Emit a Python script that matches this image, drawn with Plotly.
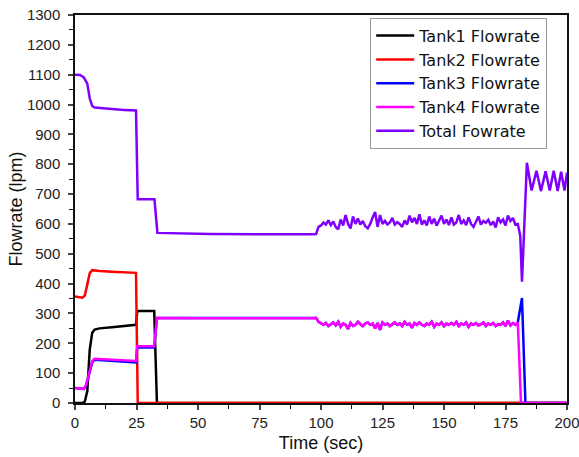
import plotly.graph_objects as go

# ---------------- data ----------------
tank1_t = [0, 3, 4, 5, 6, 7, 8, 10, 15, 20, 24.8, 25.3, 32.2, 33.3, 200]
tank1_v = [0, 0, 5, 40, 180, 235, 246, 250, 254, 258, 262, 308, 308, 0, 0]

tank2_t = [0, 3, 4, 5, 6, 7, 10, 15, 20, 24.8, 25.5, 200]
tank2_v = [357, 353, 360, 400, 435, 445, 442, 440, 438, 436, 0, 0]

early_t = [0, 3.5, 4.5, 6, 7, 8, 10, 15, 20, 24.8, 25.3, 32.2, 33.3, 50, 97]
tank3_early = [50, 47, 58, 105, 136, 145, 144, 141, 139, 136, 186, 186, 285, 285, 284]
tank4_early = [50, 47, 60, 110, 140, 148, 147, 145, 143, 141, 190, 190, 285, 284, 284]

fluct_t = list(range(98, 181))
tank4_fluct = [285, 272, 266, 262, 268, 258, 264, 270, 260, 272, 255, 266, 262, 248, 268,
               258, 262, 272, 264, 258, 266, 270, 262, 266, 250, 268, 245, 270, 262, 266,
               258, 264, 270, 262, 266, 258, 272, 262, 266, 252, 268, 262, 270, 262, 258,
               266, 262, 272, 255, 266, 262, 270, 258, 266, 262, 268, 262, 272, 258, 266,
               262, 270, 255, 266, 262, 268, 260, 264, 270, 258, 266, 262, 268, 258, 264,
               262, 270, 258, 276, 260, 268, 262, 270]
tank3_fluct = tank4_fluct

tank3_end_t = [181.7, 183.1, 200]
tank3_end_v = [352, 0, 0]
tank4_end_t = [181.3, 200]
tank4_end_v = [0, 0]

total_early_t = [0, 2, 3.5, 5, 6, 7, 8, 10, 15, 20, 24.8, 25.5, 32.3, 33.5, 55, 97]
total_early_v = [1100, 1099, 1092, 1070, 1020, 995, 990, 988, 985, 982, 980, 683, 683, 570, 566, 565]
total_fluct = [566, 590, 595, 605, 598, 612, 596, 608, 590, 582, 615, 595, 630, 600, 585,
               625, 600, 618, 598, 610, 592, 585, 600, 622, 640, 590, 630, 600, 610, 598,
               605, 620, 598, 606, 600, 590, 612, 598, 628, 605, 620, 600, 632, 598, 612,
               595, 625, 600, 618, 594, 610, 628, 600, 615, 596, 622, 598, 605, 630, 600,
               612, 596, 622, 600, 590, 608, 625, 598, 610, 604, 614, 596, 608, 588, 622,
               605, 615, 595, 628, 610, 620, 598, 600]
total_end_t = [181, 181.7, 183.7, 185.6, 187.6, 189.4, 191.3, 193.0, 194.6, 196.2, 197.6, 199.0, 200]
total_end_v = [560, 406, 805, 712, 778, 710, 776, 712, 778, 710, 775, 712, 772]

names = ["Tank1 Flowrate", "Tank2 Flowrate", "Tank3 Flowrate", "Tank4 Flowrate", "Total Fowrate"]
colors = ["#000000", "#ff0000", "#0000ff", "#ff00ff", "#7f00ff"]

x_ticks = [0, 25, 50, 75, 100, 125, 150, 175, 200]
y_ticks = list(range(0, 1301, 100))

series = [
    (tank1_t, tank1_v),
    (tank2_t, tank2_v),
    (early_t + fluct_t + tank3_end_t, tank3_early + tank3_fluct + tank3_end_v),
    (early_t + fluct_t + tank4_end_t, tank4_early + tank4_fluct + tank4_end_v),
    (total_early_t + fluct_t + total_end_t, total_early_v + total_fluct + total_end_v),
]

fig = go.Figure()
for (t, v), n, c in zip(series, names, colors):
    fig.add_trace(go.Scatter(x=t, y=v, mode="lines", name=n,
                             line=dict(color=c, width=2.5)))

font_family = "Arial, Liberation Sans, sans-serif"
fig.update_layout(
    width=579, height=457,
    margin=dict(l=75, r=12, t=15, b=54),
    paper_bgcolor="white", plot_bgcolor="white",
    font=dict(family=font_family, color="#222222"),
    showlegend=True,
    legend=dict(x=0.6, y=0.993, xanchor="left", yanchor="top",
                bordercolor="#999999", borderwidth=1, bgcolor="white",
                font=dict(size=16, family="DejaVu Sans, sans-serif", color="#111111"),
                itemwidth=38, tracegroupgap=0),
    xaxis=dict(range=[0, 200], tickvals=x_ticks, ticks="outside", ticklen=5, tickwidth=1.5,
               showline=True, linecolor="#111111", linewidth=1.5, mirror=True,
               showgrid=False, zeroline=False, automargin=False, ticklabeloverflow="allow",
               minor=dict(dtick=12.5, ticks="outside", ticklen=4, tickwidth=1.2, tickcolor="#111111"),
               tickfont=dict(size=15, color="#222222"),
               title=dict(text="Time (sec)", font=dict(size=18, color="#111111"), standoff=7)),
    yaxis=dict(range=[0, 1300], tickvals=y_ticks, ticks="outside", ticklen=5, tickwidth=1.5,
               showline=True, linecolor="#111111", linewidth=1.5, mirror=True,
               showgrid=False, zeroline=False, automargin=False, ticklabelstandoff=5,
               minor=dict(dtick=50, ticks="outside", ticklen=4, tickwidth=1.2, tickcolor="#111111"),
               tickfont=dict(size=15, color="#222222"),
               title=dict(text="Flowrate (lpm)", font=dict(size=18, color="#111111"), standoff=0)),
)

fig.write_html("out.html", config={"displayModeBar": False},
               post_script="document.body.style.margin='0';")
